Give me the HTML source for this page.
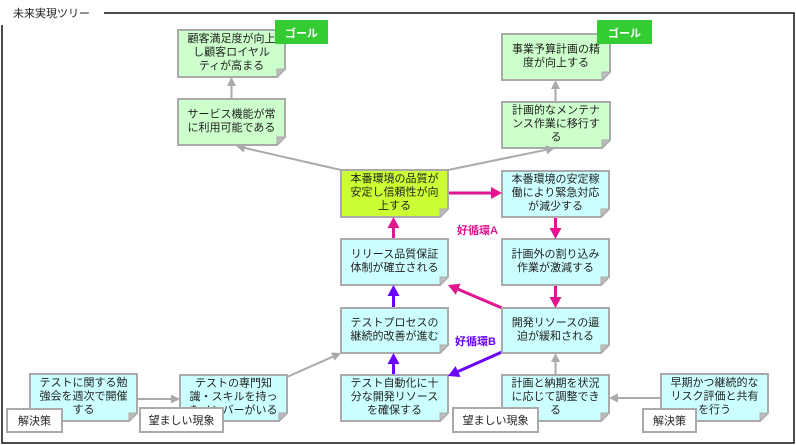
<!DOCTYPE html>
<html><head><meta charset="utf-8"><style>
html,body{margin:0;padding:0;background:#fff;}
svg{display:block;}
text{font-family:"Liberation Sans","Noto Sans CJK JP",sans-serif;font-size:11px;fill:#222;}
.c{text-anchor:middle;}
</style></head><body>
<svg width="796" height="445" viewBox="0 0 796 445" xmlns="http://www.w3.org/2000/svg">
<rect width="796" height="445" fill="#fff"/>
<!-- frame -->
<text x="13" y="17">未来実現ツリー</text>
<path d="M104,13 H794 V443 H2 V25" fill="none" stroke="#111" stroke-width="1.5"/>

<!-- connector lines -->
<g stroke="#aaaaaa" stroke-width="2" fill="none">
<line x1="231.5" y1="99" x2="231.5" y2="86"/>
<line x1="555.5" y1="102" x2="555.5" y2="89"/>
<line x1="341" y1="170" x2="244.8" y2="148"/>
<line x1="448" y1="170" x2="546.2" y2="149.8"/>
<line x1="555.5" y1="375" x2="555.5" y2="362"/>
<line x1="137" y1="399" x2="171" y2="399"/>
<line x1="661" y1="398" x2="618" y2="398"/>
<line x1="287" y1="377" x2="332.8" y2="356.7"/>
</g>
<g stroke="#e0158f" stroke-width="3" fill="none">
<line x1="448" y1="193" x2="491" y2="193"/>
<line x1="555.5" y1="217" x2="555.5" y2="228"/>
<line x1="555.5" y1="285" x2="555.5" y2="297"/>
<line x1="502" y1="308" x2="458.1" y2="289.3"/>
<line x1="393.5" y1="239" x2="393.5" y2="228"/>
</g>
<g stroke="#6a00ff" stroke-width="3" fill="none">
<line x1="502" y1="352" x2="458" y2="371.5"/>
<line x1="393.5" y1="375" x2="393.5" y2="364"/>
<line x1="393.5" y1="308" x2="393.5" y2="296"/>
</g>

<!-- boxes -->
<g stroke="#aaaaaa" stroke-width="2">
<polygon points="178,30 285,30 285,69 277,77 178,77" fill="#ccffcc"/>
<polygon points="178,99 285,99 285,137 277,145 178,145" fill="#ccffcc"/>
<polygon points="502,34 610,34 610,72 602,80 502,80" fill="#ccffcc"/>
<polygon points="502,102 610,102 610,140 602,148 502,148" fill="#ccffcc"/>
<polygon points="341,170 448,170 448,209 440,217 341,217" fill="#ccff33"/>
<polygon points="502,171 609,171 609,209 601,217 502,217" fill="#ccffff"/>
<polygon points="341,239 448,239 448,277 440,285 341,285" fill="#ccffff"/>
<polygon points="502,239 609,239 609,277 601,285 502,285" fill="#ccffff"/>
<polygon points="341,308 448,308 448,345 440,353 341,353" fill="#ccffff"/>
<polygon points="502,308 609,308 609,345 601,353 502,353" fill="#ccffff"/>
<polygon points="341,375 448,375 448,413 440,421 341,421" fill="#ccffff"/>
<polygon points="502,375 609,375 609,413 601,421 502,421" fill="#ccffff"/>
<polygon points="30,374 137,374 137,413 129,421 30,421" fill="#ccffff"/>
<polygon points="180,375 287,375 287,413 279,421 180,421" fill="#ccffff"/>
<polygon points="661,374 768,374 768,413 760,421 661,421" fill="#ccffff"/>
</g>
<!-- folds -->
<g fill="#bdbdbd" stroke="#aaaaaa" stroke-width="1">
<polygon points="285,69 277,77 277,69"/>
<polygon points="285,137 277,145 277,137"/>
<polygon points="610,72 602,80 602,72"/>
<polygon points="610,140 602,148 602,140"/>
<polygon points="448,209 440,217 440,209"/>
<polygon points="609,209 601,217 601,209"/>
<polygon points="448,277 440,285 440,277"/>
<polygon points="609,277 601,285 601,277"/>
<polygon points="448,345 440,353 440,345"/>
<polygon points="609,345 601,353 601,345"/>
<polygon points="448,413 440,421 440,413"/>
<polygon points="609,413 601,421 601,413"/>
<polygon points="137,413 129,421 129,413"/>
<polygon points="287,413 279,421 279,413"/>
<polygon points="768,413 760,421 760,413"/>
</g>

<!-- arrowheads -->
<g fill="#aaaaaa">
<polygon points="231.5,77 227,86 236,86"/>
<polygon points="555.5,80 551,89 560,89"/>
<polygon points="236,146 245.8,143.6 243.8,152.4"/>
<polygon points="555,148 547.1,154.2 545.3,145.4"/>
<polygon points="555.5,353 551,362 560,362"/>
<polygon points="180,399 171,394.5 171,403.5"/>
<polygon points="609,398 618,393.5 618,402.5"/>
<polygon points="341,353 334.6,360.8 331,352.5"/>
</g>
<g fill="#e0158f">
<polygon points="502,193 491,187 491,199"/>
<polygon points="555.5,239 549.5,228 561.5,228"/>
<polygon points="555.5,308 549.5,297 561.5,297"/>
<polygon points="448,285 460.5,283.8 455.8,294.8"/>
<polygon points="393.5,217 387.5,228 399.5,228"/>
</g>
<g fill="#6a00ff">
<polygon points="448,376 460.5,377 455.6,366.1"/>
<polygon points="393.5,353 387.5,364 399.5,364"/>
<polygon points="393.5,285 387.5,296 399.5,296"/>
</g>

<!-- box texts -->
<text class="c" x="231.5" y="42">顧客満足度が向上</text>
<text class="c" x="231.5" y="55.5">し顧客ロイヤル</text>
<text class="c" x="231.5" y="69">ティが高まる</text>

<text class="c" x="231.5" y="117.3">サービス機能が常</text>
<text class="c" x="231.5" y="130.8">に利用可能である</text>

<text class="c" x="556" y="52.3">事業予算計画の精</text>
<text class="c" x="556" y="65.8">度が向上する</text>

<text class="c" x="556" y="113.5">計画的なメンテナ</text>
<text class="c" x="556" y="127">ンス作業に移行す</text>
<text class="c" x="556" y="140.5">る</text>

<text class="c" x="394.5" y="182">本番環境の品質が</text>
<text class="c" x="394.5" y="195.5">安定し信頼性が向</text>
<text class="c" x="394.5" y="209">上する</text>

<text class="c" x="555.5" y="182.5">本番環境の安定稼</text>
<text class="c" x="555.5" y="196">働により緊急対応</text>
<text class="c" x="555.5" y="209.5">が減少する</text>

<text class="c" x="394.5" y="257.3">リリース品質保証</text>
<text class="c" x="394.5" y="270.8">体制が確立される</text>

<text class="c" x="555.5" y="257.3">計画外の割り込み</text>
<text class="c" x="555.5" y="270.8">作業が激減する</text>

<text class="c" x="394.5" y="325.8">テストプロセスの</text>
<text class="c" x="394.5" y="339.3">継続的改善が進む</text>

<text class="c" x="555.5" y="325.8">開発リソースの逼</text>
<text class="c" x="555.5" y="339.3">迫が緩和される</text>

<text class="c" x="394.5" y="386.5">テスト自動化に十</text>
<text class="c" x="394.5" y="400">分な開発リソース</text>
<text class="c" x="394.5" y="413.5">を確保する</text>

<text class="c" x="555.5" y="386.5">計画と納期を状況</text>
<text class="c" x="555.5" y="400">に応じて調整でき</text>
<text class="c" x="555.5" y="413.5">る</text>

<text class="c" x="83.5" y="386">テストに関する勉</text>
<text class="c" x="83.5" y="399.5">強会を週次で開催</text>
<text class="c" x="83.5" y="413">する</text>

<text class="c" x="233.5" y="386.5">テストの専門知</text>
<text class="c" x="233.5" y="400">識・スキルを持っ</text>
<text class="c" x="233.5" y="413.5">たメンバーがいる</text>

<text class="c" x="714.5" y="386">早期かつ継続的な</text>
<text class="c" x="714.5" y="399.5">リスク評価と共有</text>
<text class="c" x="714.5" y="413">を行う</text>

<!-- loop labels -->
<text x="457" y="234" style="fill:#e0158f;font-weight:bold;">好循環A</text>
<text x="455" y="345" style="fill:#6a00ff;font-weight:bold;">好循環B</text>

<!-- category labels -->
<g fill="#fff" stroke="#aaaaaa" stroke-width="2">
<rect x="7" y="409" width="55" height="23"/>
<rect x="140" y="408" width="83" height="24"/>
<rect x="453" y="408" width="85" height="24"/>
<rect x="643" y="409" width="53" height="23"/>
</g>
<text class="c" x="34.5" y="424.5">解決策</text>
<text class="c" x="181.5" y="424">望ましい現象</text>
<text class="c" x="495.5" y="424">望ましい現象</text>
<text class="c" x="669.5" y="424.5">解決策</text>

<!-- goal badges -->
<rect x="275" y="20" width="53" height="24" rx="1" fill="#33cc33"/>
<rect x="597" y="20" width="55" height="24" rx="1" fill="#33cc33"/>
<text class="c" x="301.5" y="37" style="fill:#fff;font-weight:bold;">ゴール</text>
<text class="c" x="624.5" y="37" style="fill:#fff;font-weight:bold;">ゴール</text>
</svg>
</body></html>
